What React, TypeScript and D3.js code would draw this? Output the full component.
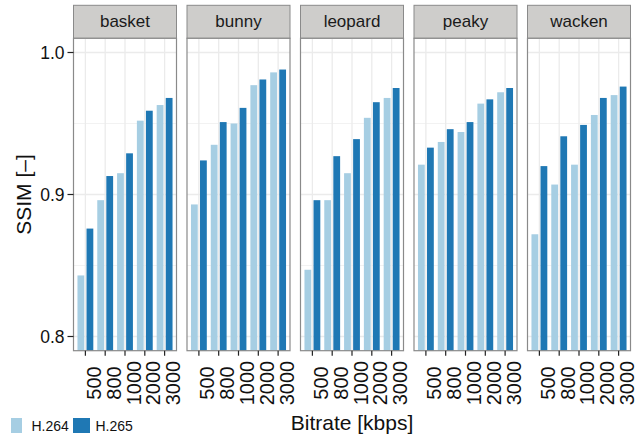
import React from "react";
import * as d3 from "d3";

const videos = ["basket", "bunny", "leopard", "peaky", "wacken"];
const bitrates = ["500", "800", "1000", "2000", "3000"];
const codecs = ["H.264", "H.265"];
const colors = ["#a6cee3", "#1f78b4"];

// SSIM per video, one value per bitrate
const h264 = {
  basket: [0.843, 0.896, 0.915, 0.952, 0.963],
  bunny: [0.893, 0.935, 0.950, 0.977, 0.986],
  leopard: [0.847, 0.896, 0.915, 0.954, 0.968],
  peaky: [0.921, 0.937, 0.944, 0.964, 0.972],
  wacken: [0.872, 0.907, 0.921, 0.956, 0.970],
};
const h265 = {
  basket: [0.876, 0.913, 0.929, 0.959, 0.968],
  bunny: [0.924, 0.951, 0.961, 0.981, 0.988],
  leopard: [0.896, 0.927, 0.939, 0.965, 0.975],
  peaky: [0.933, 0.946, 0.951, 0.967, 0.975],
  wacken: [0.920, 0.941, 0.949, 0.968, 0.976],
};

const yTicks = [0.8, 0.9, 1.0];
const yMinor = [0.85, 0.95];

export default function App() {
  const width = 643;
  const height = 436;
  const left = 73.5, right = 630.5;
  const stripTop = 5.3, panelTop = 38.3, panelBottom = 350.7;
  const font = "'Liberation Sans', Arial, Helvetica, sans-serif";

  const facet = d3.scaleBand().domain(videos).range([left, right]).paddingInner(0.0925);
  const pw = facet.bandwidth();
  const x = d3.scalePoint().domain(bitrates).range([0, pw]).padding(0.6);
  const step = x.step();
  const dodge = d3.scaleBand().domain(codecs).range([-0.4 * step, 0.4 * step]).paddingInner(0.25);
  const y = d3.scaleLinear().domain([0.79, 1.01]).range([panelBottom, panelTop]);

  const series = [h264, h265];

  return (
    <svg width={width} height={height} style={{ position: "absolute", left: 0, top: 0, background: "#fff" }} fontFamily={font}>
      {videos.map((v) => {
        const px = facet(v)!;
        return (
          <g key={v} transform={`translate(${px},0)`}>
            {/* strip */}
            <rect x={0} y={stripTop} width={pw} height={panelTop - stripTop} fill="#cecdcb" stroke="#8a8a8a" strokeWidth={1} />
            <text x={pw / 2} y={(stripTop + panelTop) / 2} textAnchor="middle" dominantBaseline="central" fontSize={17} fill="#1a1a1a">{v}</text>
            {/* panel */}
            <rect x={0} y={panelTop} width={pw} height={panelBottom - panelTop} fill="#fff" />
            {yMinor.map((t) => (
              <line key={"m" + t} x1={0} x2={pw} y1={y(t)} y2={y(t)} stroke="#f2f2f2" strokeWidth={1} />
            ))}
            {yTicks.map((t) => (
              <line key={"g" + t} x1={0} x2={pw} y1={y(t)} y2={y(t)} stroke="#ebebeb" strokeWidth={1.3} />
            ))}
            {bitrates.map((b) => (
              <line key={"v" + b} x1={x(b)!} x2={x(b)!} y1={panelTop} y2={panelBottom} stroke="#ebebeb" strokeWidth={1.3} />
            ))}
            {codecs.map((c, ci) =>
              bitrates.map((b, bi) => {
                const val = (series[ci] as any)[v][bi];
                const bx = x(b)! + dodge(c)!;
                return (
                  <rect key={c + b} x={bx} y={y(val)} width={dodge.bandwidth()} height={panelBottom - y(val)} fill={colors[ci]} />
                );
              })
            )}
            <rect x={0} y={panelTop} width={pw} height={panelBottom - panelTop} fill="none" stroke="#8a8a8a" strokeWidth={1.2} />
            {/* x axis */}
            {bitrates.map((b) => (
              <g key={"t" + b} transform={`translate(${x(b)},0)`}>
                <line y1={panelBottom} y2={panelBottom + 5} stroke="#222" strokeWidth={1.2} />
                <text transform={`translate(8.5,383) rotate(-90)`} textAnchor="middle" dominantBaseline="central" fontSize={20} fill="#111">{b}</text>
              </g>
            ))}
          </g>
        );
      })}
      {/* y axis */}
      {yTicks.map((t) => (
        <g key={"y" + t}>
          <line x1={left - 6} x2={left} y1={y(t)} y2={y(t)} stroke="#222" strokeWidth={1.2} />
          <text x={left - 9} y={y(t)} textAnchor="end" dominantBaseline="central" fontSize={17.5} fill="#111">{d3.format(".1f")(t)}</text>
        </g>
      ))}
      <text transform={`translate(23,${(panelTop + panelBottom) / 2}) rotate(-90)`} textAnchor="middle" dominantBaseline="central" fontSize={21} fill="#111">SSIM [–]</text>
      <text x={(left + right) / 2} y={430} textAnchor="middle" fontSize={21} fill="#111">Bitrate [kbps]</text>
      {/* legend */}
      {codecs.map((c, i) => {
        const lx = [11, 73][i];
        return (
          <g key={"l" + c}>
            <rect x={lx} y={418} width={i === 0 ? 11 : 17} height={15} fill={colors[i]} />
            <text x={lx + (i === 0 ? 20.5 : 22.5)} y={425.5} dominantBaseline="central" fontSize={14} fill="#111">{c}</text>
          </g>
        );
      })}
    </svg>
  );
}
